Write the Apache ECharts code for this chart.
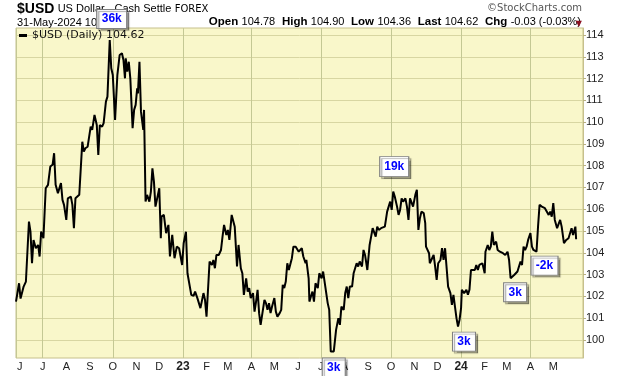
<!DOCTYPE html>
<html>
<head>
<meta charset="utf-8">
<script src="https://cdn.jsdelivr.net/npm/echarts@6/dist/echarts.min.js"></script>
<style>
    html, body { margin: 0; padding: 0; background: #fff; }
    #chart { width: 620px; height: 376px; }
</style>
</head>
<body>
<div id="chart"></div>
<script>
// 日线收盘
var dates = [
    '2022-05-27','2022-05-31','2022-06-02','2022-06-06','2022-06-09','2022-06-13','2022-06-15','2022-06-17','2022-06-19','2022-06-22',
    '2022-06-25','2022-06-27','2022-06-29','2022-07-02','2022-07-05','2022-07-08','2022-07-11','2022-07-14','2022-07-16','2022-07-18',
    '2022-07-21','2022-07-25','2022-07-27','2022-07-29','2022-08-01','2022-08-03','2022-08-07','2022-08-09','2022-08-11','2022-08-13',
    '2022-08-18','2022-08-22','2022-08-24','2022-08-26','2022-08-29','2022-09-02','2022-09-04','2022-09-07','2022-09-10','2022-09-12',
    '2022-09-14','2022-09-17','2022-09-19','2022-09-22','2022-09-24','2022-09-27','2022-09-29','2022-10-01','2022-10-04','2022-10-07',
    '2022-10-10','2022-10-13','2022-10-15','2022-10-17','2022-10-18','2022-10-20','2022-10-22','2022-10-24','2022-10-27','2022-10-29',
    '2022-10-31','2022-11-02','2022-11-03','2022-11-05','2022-11-07','2022-11-10','2022-11-11','2022-11-13','2022-11-15','2022-11-18',
    '2022-11-20','2022-11-22','2022-11-24','2022-11-26','2022-11-28','2022-12-01','2022-12-03','2022-12-04','2022-12-07','2022-12-10',
    '2022-12-13','2022-12-15','2022-12-18','2022-12-21','2022-12-24','2022-12-27','2022-12-29','2022-12-31','2023-01-02','2023-01-05',
    '2023-01-07','2023-01-09','2023-01-12','2023-01-15','2023-01-17','2023-01-20','2023-01-22','2023-01-24','2023-01-28','2023-01-30',
    '2023-02-01','2023-02-05','2023-02-08','2023-02-10','2023-02-12','2023-02-14','2023-02-17','2023-02-20','2023-02-22','2023-02-24',
    '2023-02-27','2023-03-01','2023-03-03','2023-03-06','2023-03-08','2023-03-10','2023-03-13','2023-03-15','2023-03-18','2023-03-20',
    '2023-03-22','2023-03-25','2023-03-27','2023-03-29','2023-03-31','2023-04-03','2023-04-05','2023-04-07','2023-04-09','2023-04-11',
    '2023-04-13','2023-04-16','2023-04-18','2023-04-20','2023-04-22','2023-04-24','2023-04-26','2023-04-28','2023-05-01','2023-05-03',
    '2023-05-05','2023-05-08','2023-05-10','2023-05-12','2023-05-14','2023-05-16','2023-05-18','2023-05-20','2023-05-22','2023-05-24',
    '2023-05-26','2023-05-29','2023-05-31','2023-06-02','2023-06-04','2023-06-06','2023-06-08','2023-06-11','2023-06-12','2023-06-15',
    '2023-06-16','2023-06-18','2023-06-20','2023-06-22','2023-06-24','2023-06-27','2023-06-29','2023-07-02','2023-07-04','2023-07-06',
    '2023-07-10','2023-07-12','2023-07-14','2023-07-16','2023-07-18','2023-07-21','2023-07-24','2023-07-26','2023-07-28','2023-07-31',
    '2023-08-02','2023-08-04','2023-08-06','2023-08-08','2023-08-11','2023-08-13','2023-08-15','2023-08-17','2023-08-19','2023-08-21',
    '2023-08-24','2023-08-26','2023-08-28','2023-08-30','2023-08-31','2023-09-03','2023-09-05','2023-09-07','2023-09-09','2023-09-11',
    '2023-09-13','2023-09-15','2023-09-18','2023-09-20','2023-09-23','2023-09-26','2023-09-28','2023-09-30','2023-10-02','2023-10-04',
    '2023-10-06','2023-10-09','2023-10-11','2023-10-13','2023-10-15','2023-10-17','2023-10-20','2023-10-22','2023-10-24','2023-10-26',
    '2023-10-28','2023-10-30','2023-11-02','2023-11-04','2023-11-06','2023-11-08','2023-11-10','2023-11-13','2023-11-15','2023-11-16',
    '2023-11-18','2023-11-20','2023-11-21','2023-11-24','2023-11-26','2023-11-28','2023-11-30','2023-12-02','2023-12-05','2023-12-07',
    '2023-12-09','2023-12-11','2023-12-13','2023-12-15','2023-12-18','2023-12-20','2023-12-22','2023-12-24','2023-12-26','2023-12-28',
    '2023-12-30','2024-01-01','2024-01-02','2024-01-05','2024-01-08','2024-01-10','2024-01-12','2024-01-14','2024-01-16','2024-01-19',
    '2024-01-21','2024-01-23','2024-01-25','2024-01-27','2024-01-29','2024-02-01','2024-02-02','2024-02-05','2024-02-07','2024-02-09',
    '2024-02-11','2024-02-13','2024-02-16','2024-02-18','2024-02-21','2024-02-25','2024-02-28','2024-03-02','2024-03-04','2024-03-06',
    '2024-03-08','2024-03-11','2024-03-13','2024-03-15','2024-03-17','2024-03-19','2024-03-21','2024-03-23','2024-03-25','2024-03-27',
    '2024-03-29','2024-04-01','2024-04-03','2024-04-05','2024-04-07','2024-04-09','2024-04-11','2024-04-13','2024-04-16','2024-04-18',
    '2024-04-20','2024-04-22','2024-04-25','2024-04-27','2024-04-29','2024-05-01','2024-05-03','2024-05-06','2024-05-08','2024-05-10',
    '2024-05-12','2024-05-15','2024-05-18','2024-05-21','2024-05-23','2024-05-25','2024-05-27','2024-05-28','2024-05-30','2024-05-31'
];
var closes = [
    101.76,102.60,101.90,102.45,102.68,105.43,104.97,103.52,104.59,104.21,
    104.36,103.83,104.97,104.67,106.96,107.12,107.96,108.04,108.57,107.12,
    106.74,107.20,106.43,106.20,105.51,106.50,106.58,106.20,105.13,106.50,
    106.66,109.10,108.64,108.80,108.87,109.79,109.64,110.33,109.87,108.49,
    109.87,109.79,109.95,110.94,111.17,113.77,112.47,112.16,110.10,112.16,
    113.08,113.16,112.85,112.01,112.93,112.32,112.77,112.01,109.72,110.56,
    110.79,111.55,111.32,112.77,110.48,109.64,110.56,106.35,106.66,106.35,
    106.81,107.88,107.27,106.12,106.12,106.96,104.67,105.66,105.74,104.90,
    105.28,103.83,104.82,103.75,104.28,104.21,104.28,103.44,104.44,104.97,
    103.06,103.06,102.07,102.02,102.22,101.92,101.84,101.46,102.15,101.84,
    101.07,103.60,103.44,103.67,103.29,103.90,103.90,104.13,104.74,105.28,
    104.82,105.05,104.59,105.74,105.66,105.20,103.37,104.36,103.29,103.06,
    102.07,102.83,102.22,102.38,101.92,102.15,101.30,101.76,102.30,101.23,
    100.69,101.38,101.84,101.69,101.38,101.69,101.23,101.53,101.92,101.30,
    101.07,101.23,101.38,102.53,102.38,102.68,103.52,103.21,103.21,103.75,
    104.28,104.28,104.36,104.05,104.13,104.21,103.83,103.52,103.67,102.83,
    101.76,101.99,102.22,101.76,102.60,102.38,103.06,102.83,103.14,103.06,
    101.69,101.38,99.47,99.54,99.47,100.46,101.00,100.69,101.53,101.38,
    102.15,102.45,101.92,102.45,102.45,103.06,103.29,103.52,103.37,103.60,
    103.37,104.13,103.90,103.83,103.21,104.36,104.74,105.13,105.05,104.74,
    105.20,105.05,105.13,105.05,105.20,105.89,106.12,106.35,105.97,106.81,
    106.58,106.12,105.74,105.97,106.50,106.35,106.50,106.12,105.51,106.50,
    106.58,106.12,106.66,106.89,105.05,105.59,105.89,105.82,105.36,104.28,
    104.36,103.98,103.52,103.75,103.90,103.37,102.76,103.52,103.67,104.21,
    103.67,104.21,104.13,102.45,102.15,101.61,102.07,101.53,101.00,100.61,
    100.92,101.46,102.30,102.15,102.30,102.07,102.30,103.21,103.29,103.21,
    103.44,103.21,103.44,103.37,103.52,103.06,104.05,104.36,104.13,104.28,
    104.97,104.36,104.51,104.13,104.05,103.98,103.90,104.05,103.67,102.83,
    102.83,102.99,102.91,103.14,103.21,103.60,103.44,104.28,104.13,104.28,
    104.59,104.90,104.28,104.13,104.21,104.05,105.20,106.20,106.12,106.20,
    106.05,106.12,105.74,105.89,105.66,106.28,105.51,105.13,105.05,105.51,
    105.20,104.44,104.59,104.67,104.90,105.13,104.82,104.74,105.20,104.62
];

// 注释框（成交量标记）
var noteDates = ['2022-09-27', '2023-10-04', '2023-07-14', '2023-12-28', '2024-03-08', '2024-04-09'];
var noteValues = [113.77, 106.81, 99.47, 100.61, 102.83, 104.05];
var noteTexts = ['36k', '19k', '3k', '3k', '3k', '-2k'];

// 刻度
var monthLetters = ['J', 'F', 'M', 'A', 'M', 'J', 'J', 'A', 'S', 'O', 'N', 'D'];
var yTicks = [100, 101, 102, 103, 104, 105, 106, 107, 108, 109, 110, 111, 112, 113, 114];

// 报价
var quoteLabels = ['Open', 'High', 'Low', 'Last', 'Chg'];
var quoteValues = ['104.78', '104.90', '104.36', '104.62', '-0.03 (-0.03%)'];

var seriesData = [];
for (let i = 0; i < dates.length; i++) {
    seriesData.push([dates[i], closes[i]]);
}
var lastDate = new Date(dates[dates.length - 1]).getTime();

// 注释框位置与大小
var boxOffsets = [[2, -21], [1, -25], [3, 16], [6, 15], [3, 14], [8, 14]];
var boxSizes = [[30, 19], [29, 20], [23, 19], [23, 19], [23, 19], [27, 19]];
var notePoints = [];
for (let i = 0; i < noteTexts.length; i++) {
    notePoints.push({
        name: noteTexts[i],
        coord: [noteDates[i], noteValues[i]],
        symbolSize: boxSizes[i],
        symbolOffset: boxOffsets[i],
    });
}

var quoteText = '';
for (let i = 0; i < quoteLabels.length; i++) {
    quoteText += (i ? '  ' : '') + '{b|' + quoteLabels[i] + '} {n|' + quoteValues[i] + '}';
}

var chart = echarts.init(document.getElementById('chart'));
chart.setOption({
    animation: false,
    backgroundColor: '#ffffff',
    grid: {
        left: 16,
        right: 37,
        top: 28,
        bottom: 18,
        show: true,
        backgroundColor: '#f9f7ca',
        borderColor: '#c6c08c',
        borderWidth: 1,
    },
    legend: {
        left: 19,
        top: 30,
        padding: 0,
        icon: 'rect',
        itemWidth: 8,
        itemHeight: 3,
        textStyle: { fontFamily: 'DejaVu Sans', fontSize: 11, color: '#111' },
        formatter: function (name) {
            return name + ' ' + closes[closes.length - 1].toFixed(2);
        },
    },
    xAxis: [
        {
            type: 'time',
            min: '2022-05-27',
            max: '2024-06-09',
            splitNumber: 24,
            axisLine: { show: false },
            axisTick: { show: false },
            splitLine: { show: false },
            axisLabel: {
                margin: 3,
                fontFamily: 'Liberation Sans',
                fontSize: 11,
                color: '#222',
                formatter: function (value) {
                    if (value > lastDate) {
                        return '';
                    }
                    var d = new Date(value);
                    var m = d.getMonth();
                    if (m === 0) {
                        return '{yr|' + String(d.getFullYear()).slice(2) + '}';
                    }
                    return monthLetters[m];
                },
                rich: {
                    yr: { fontFamily: 'Liberation Sans', fontSize: 12, fontWeight: 'bold', color: '#222' },
                },
            },
        },
        {
            // 季度竖线
            type: 'time',
            min: '2022-05-27',
            max: '2024-06-09',
            splitNumber: 8,
            position: 'bottom',
            axisLine: { show: false },
            axisTick: { show: false },
            axisLabel: { show: false },
            splitLine: { show: true, lineStyle: { color: '#c4c894', width: 1 } },
        },
    ],
    yAxis: {
        type: 'value',
        position: 'right',
        min: 99.17,
        max: 114.32,
        axisLine: { show: true, lineStyle: { color: '#c6c08c' } },
        axisTick: { show: true, length: 3, customValues: yTicks, lineStyle: { color: '#b8b080' } },
        splitLine: { show: true, lineStyle: { color: '#d8d6a2', width: 1 } },
        axisLabel: {
            margin: 3,
            customValues: yTicks,
            fontFamily: 'Liberation Sans',
            fontSize: 11,
            color: '#222',
        },
    },
    series: [
        {
            name: '$USD (Daily)',
            type: 'line',
            data: seriesData,
            showSymbol: false,
            symbol: 'none',
            lineStyle: { color: '#000', width: 2 },
            itemStyle: { color: '#000' },
            markPoint: {
                symbol: 'rect',
                data: notePoints,
                itemStyle: {
                    color: '#fff',
                    borderColor: '#808080',
                    borderWidth: 1,
                    shadowColor: 'rgba(0,0,0,0.35)',
                    shadowOffsetX: 2,
                    shadowOffsetY: 2,
                    shadowBlur: 1,
                },
                label: {
                    show: true,
                    position: 'inside',
                    formatter: '{b}',
                    color: '#0000ff',
                    fontFamily: 'Liberation Sans',
                    fontWeight: 'bold',
                    fontSize: 12,
                },
            },
        },
    ],
    graphic: [
        {
            type: 'text',
            left: 17,
            top: 2,
            style: {
                text: '{a|$USD} {b|US Dollar - Cash Settle} {c|FOREX}',
                rich: {
                    a: { fontFamily: 'Liberation Sans', fontSize: 14, fontWeight: 'bold', fill: '#000' },
                    b: { fontFamily: 'Liberation Sans', fontSize: 11, fill: '#000' },
                    c: { fontFamily: 'DejaVu Sans', fontSize: 10, fill: '#000' },
                },
            },
        },
        {
            type: 'text',
            left: 17,
            top: 17,
            style: { text: '31-May-2024 10:', font: '11px "Liberation Sans"', fill: '#000' },
        },
        {
            type: 'text',
            right: 39,
            top: 16,
            style: {
                text: quoteText,
                rich: {
                    b: { fontFamily: 'Liberation Sans', fontSize: 11.5, fontWeight: 'bold', fill: '#000' },
                    n: { fontFamily: 'Liberation Sans', fontSize: 11, fill: '#000' },
                },
            },
        },
        {
            type: 'text',
            right: 38,
            top: 20,
            style: { text: '▼', font: '8px "DejaVu Sans"', fill: '#8b1020' },
        },
        {
            type: 'text',
            right: 38,
            top: 3,
            style: { text: '©StockCharts.com', font: '10px "DejaVu Sans"', fill: '#555' },
        },
    ],
});
</script>
</body>
</html>
